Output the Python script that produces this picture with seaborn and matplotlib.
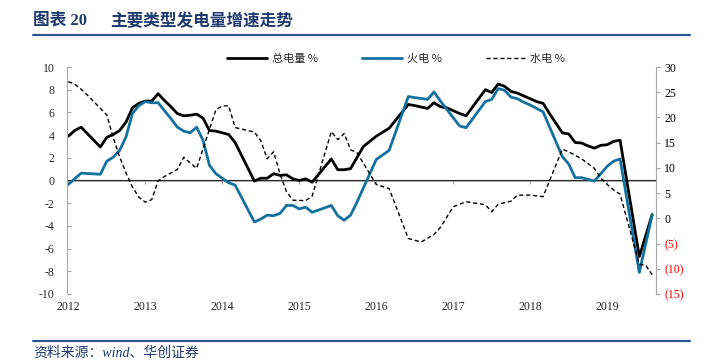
import numpy as np
import pandas as pd
import matplotlib
matplotlib.use("Agg")
import matplotlib.pyplot as plt
from matplotlib.lines import Line2D
from matplotlib.ticker import FuncFormatter
import seaborn as sns

# ---------------- data (x = months since 2012-01) ----------------
total_m = [0, 1, 2, 5, 6, 7, 8, 9, 10, 11, 12, 13, 14, 15, 16, 17, 18, 19, 20, 21, 22, 23, 25, 26,
           29, 30, 31, 32, 33, 34, 35, 36, 37, 38, 41, 42, 43, 44, 46, 48, 50, 53, 54, 56, 57, 58,
           59, 61, 62, 65, 66, 67, 68, 69, 70, 71, 72, 73, 74, 75, 77, 78, 79, 80, 81, 82, 83, 84,
           85, 86, 89, 91]
total_v = [3.9, 4.4, 4.7, 2.95, 3.8, 4.05, 4.4, 5.15, 6.4, 6.8, 7.0, 7.0, 7.65, 7.05, 6.5, 5.9, 5.7,
           5.75, 5.85, 5.5, 4.4, 4.35, 4.05, 3.35, -0.05, 0.2, 0.2, 0.6, 0.45, 0.5, 0.15, 0.0, 0.15,
           -0.15, 1.9, 0.95, 0.95, 1.05, 3.0, 3.9, 4.6, 6.7, 6.6, 6.35, 6.85, 6.5, 6.4, 5.9, 5.7,
           8.0, 7.75, 8.5, 8.3, 7.85, 7.7, 7.45, 7.2, 6.95, 6.8, 5.9, 4.2, 4.1, 3.35, 3.3, 3.05,
           2.85, 3.1, 3.15, 3.45, 3.55, -6.7, -3.0]

thermal_m = [0, 1, 2, 5, 6, 7, 8, 9, 10, 11, 12, 13, 14, 15, 16, 17, 18, 19, 20, 21, 22, 23, 25, 26,
             29, 30, 31, 32, 33, 34, 35, 36, 37, 38, 41, 42, 43, 44, 45, 48, 50, 53, 54, 56, 57, 58,
             61, 62, 65, 66, 67, 68, 69, 70, 71, 72, 73, 74, 77, 78, 79, 80, 81, 82, 83, 84, 85,
             86, 89, 91]
thermal_v = [-0.35, 0.15, 0.65, 0.55, 1.7, 2.05, 2.65, 3.85, 5.9, 6.6, 6.95, 6.85, 6.85, 6.15, 5.45,
             4.7, 4.35, 4.2, 4.7, 3.55, 1.35, 0.6, -0.2, -0.4, -3.65, -3.4, -3.05, -3.1, -2.9, -2.2,
             -2.2, -2.5, -2.35, -2.8, -2.2, -3.1, -3.5, -3.05, -1.9, 1.85, 2.65, 7.4, 7.3, 7.15,
             7.8, 7.0, 4.8, 4.65, 6.95, 7.15, 8.1, 7.95, 7.35, 7.2, 6.9, 6.65, 6.35, 6.05, 2.1,
             1.45, 0.25, 0.25, 0.1, -0.05, 0.6, 1.25, 1.7, 1.9, -8.1, -3.05]

hydro_m = [0, 1, 2, 3, 4, 5, 6, 7, 8, 9, 10, 11, 12, 13, 14, 15, 16, 17, 18, 19, 20, 23, 24, 25, 26,
           29, 30, 31, 32, 33, 34, 35, 37, 38, 41, 42, 43, 44, 45, 48, 50, 53, 55, 57, 58, 60, 62,
           65, 66, 67, 69, 70, 72, 74, 77, 78, 80, 82, 83, 84, 85, 86, 89, 90, 91]
hydro_v = [27.1, 26.6, 25.6, 24.4, 23.1, 21.8, 20.5, 16.0, 12.2, 9.0, 6.2, 4.2, 3.2, 3.7, 7.4, 8.3,
           9.0, 9.7, 12.1, 11.0, 9.9, 21.5, 22.3, 22.3, 18.0, 17.1, 15.4, 11.8, 13.2, 8.8, 5.3,
           3.6, 3.5, 4.4, 17.2, 15.6, 16.8, 13.6, 13.0, 6.7, 5.9, -4.0, -4.7, -3.2, -1.8, 2.3,
           3.3, 2.7, 1.3, 2.8, 3.4, 4.6, 4.6, 4.3, 13.7, 13.2, 11.8, 9.9, 8.0, 6.7, 5.6, 4.8,
           -9.1, -9.3, -11.2]

year_ticks = [0, 12, 24, 36, 48, 60, 72, 84]
year_labels = ["2012", "2013", "2014", "2015", "2016", "2017", "2018", "2019"]
left_ticks = list(range(-10, 11, 2))
right_ticks = list(range(-15, 31, 5))

names = ["总电量 %", "火电 %", "水电 %"]

# ---------------- style ----------------
sns.set_style("white")
plt.rcParams["font.family"] = ["Liberation Serif", "Noto Sans CJK SC"]
plt.rcParams["axes.unicode_minus"] = False

BLUE = "#14719f"
NAVY = "#1f3a6e"
GRAY = "#a6a6a6"

fig = plt.figure(figsize=(7.18, 3.63), dpi=100)
ax = fig.add_axes([67 / 718, 1 - 294 / 363, (656 - 67) / 718, (294 - 67) / 363])
ax2 = ax.twinx()

sns.lineplot(x=total_m, y=total_v, ax=ax, color="black", linewidth=2.0, label=names[0], legend=False)
sns.lineplot(x=thermal_m, y=thermal_v, ax=ax, color=BLUE, linewidth=2.0, label=names[1], legend=False)
sns.lineplot(x=hydro_m, y=hydro_v, ax=ax2, color="black", linewidth=1.0,
             linestyle=(0, (3, 2)), label=names[2], legend=False)

ax.set_xlim(-0.2, 91.6)
ax.set_ylim(-10, 10)
ax2.set_ylim(-15, 30)

ax.axhline(0, color=GRAY, linewidth=1.2, zorder=0)

for a in (ax, ax2):
    for s in ("top", "bottom"):
        a.spines[s].set_visible(False)
ax.spines["left"].set_color(GRAY)
ax2.spines["right"].set_color(GRAY)
ax2.spines["left"].set_visible(False)
ax.spines["right"].set_visible(False)

ax.set_yticks(left_ticks)
ax.set_yticklabels([str(t) for t in left_ticks])
ax.tick_params(axis="y", which="both", left=True, direction="in", length=3, color=GRAY,
               labelsize=8.5, pad=9)
ax2.set_yticks(right_ticks)
ax2.yaxis.set_major_formatter(FuncFormatter(lambda v, p: f"({abs(int(v))})" if v < 0 else f"{int(v)}"))
ax2.tick_params(axis="y", right=True, direction="out", length=3, color=GRAY, labelsize=8.5, pad=3)
for t, lab in zip(right_ticks, ax2.get_yticklabels()):
    lab.set_color("red" if t < 0 else "black")

ax.set_xticks(year_ticks)
ax.set_xticklabels(year_labels)
ax.tick_params(axis="x", bottom=False, length=0, labelsize=8.5, pad=5)

# tick marks on the zero line
sec = ax.secondary_xaxis(0.5)
sec.set_xticks(year_ticks)
sec.set_xticklabels([])
sec.spines["bottom"].set_visible(False)
sec.tick_params(axis="x", direction="in", length=3, color=GRAY)

ax.set_xlabel("")
ax.set_ylabel("")
ax2.set_ylabel("")
ax.grid(False)
ax2.grid(False)

handles = [Line2D([], [], color="black", lw=2.0),
           Line2D([], [], color=BLUE, lw=2.0),
           Line2D([], [], color="black", lw=1.0, linestyle=(0, (3, 2)))]
fig.legend(handles, names, loc="center", bbox_to_anchor=(0.552, 1 - 59 / 363), ncol=3,
           frameon=False, handlelength=3.6, handletextpad=0.4, columnspacing=4.0,
           prop={"family": ["Noto Sans CJK SC"], "size": 8})

# title and source
fig.text(33 / 718, 1 - 21 / 363, "图表 20", color=NAVY, weight="bold",
         fontsize=12, va="center", ha="left", family=["Liberation Serif", "Noto Sans CJK SC"])
fig.text(110 / 718, 1 - 21 / 363, "主要类型发电量增速走势", color=NAVY, weight="bold",
         fontsize=12, va="center", ha="left", family=["Noto Sans CJK SC"])
fig.add_artist(Line2D([33 / 718, 690 / 718], [1 - 35 / 363] * 2, transform=fig.transFigure,
                      color="#2e5597", lw=1.6))
fig.add_artist(Line2D([33 / 718, 690 / 718], [1 - 341 / 363] * 2, transform=fig.transFigure,
                      color="#2e5597", lw=1.6))
fig.text(33 / 718, 1 - 353 / 363, "资料来源：wind、华创证券", color=NAVY, style="italic",
         fontsize=10, va="center", ha="left", family=["Liberation Serif", "Noto Sans CJK SC"])

fig.savefig("out.png", dpi=100)
